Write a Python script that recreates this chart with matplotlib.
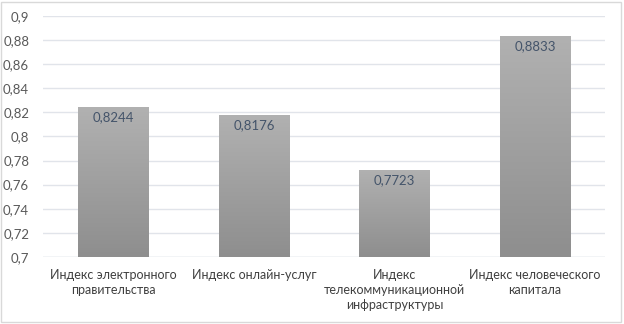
import matplotlib
matplotlib.use("Agg")
import matplotlib.pyplot as plt
import numpy as np

plt.rcParams['font.family'] = ['Lato', 'DejaVu Sans']

# data
categories = ["Индекс электронного\nправительства",
              "Индекс онлайн-услуг",
              "Индекс\nтелекоммуникационной\nинфраструктуры",
              "Индекс человеческого\nкапитала"]
values = [0.8244, 0.8176, 0.7723, 0.8833]
value_labels = ["0,8244", "0,8176", "0,7723", "0,8833"]
yticks = [0.7, 0.72, 0.74, 0.76, 0.78, 0.8, 0.82, 0.84, 0.86, 0.88, 0.9]
ytick_labels = ["0,7", "0,72", "0,74", "0,76", "0,78", "0,8", "0,82", "0,84", "0,86", "0,88", "0,9"]

fig = plt.figure(figsize=(6.24, 3.24), dpi=100)
ax = fig.add_axes([0.069, 0.207, 0.901, 0.744])

x = np.arange(len(categories))
bars = ax.bar(x, values, width=0.5, bottom=0, color='#a6a6a6', zorder=2)

# vertical gradient fill, lighter on top
grad = np.linspace(0, 1, 256).reshape(-1, 1)
cmap = matplotlib.colors.LinearSegmentedColormap.from_list('g', ['#8e8e8e', '#b1b1b1'])
for b in bars:
    x0, w, h = b.get_x(), b.get_width(), b.get_height()
    im = ax.imshow(grad, extent=[x0, x0 + w, 0.7, h], origin='lower', aspect='auto',
                   cmap=cmap, zorder=3)
    im.set_clip_path(b)

for xi, v, lab in zip(x, values, value_labels):
    ax.text(xi, v - 0.0085, lab, ha='center', va='center', fontsize=9.5,
            color='#44546a', zorder=4)

ax.set_xlim(-0.5, len(categories) - 0.5)
ax.set_ylim(0.7, 0.9)
ax.set_yticks(yticks)
ax.set_yticklabels(ytick_labels, fontsize=9.5, color='#595959')
ax.set_xticks(x)
ax.set_xticklabels(categories, fontsize=9, color='#404040', linespacing=1.3)
ax.tick_params(axis='x', length=0, pad=9)
ax.tick_params(axis='y', length=0, pad=10)
ax.yaxis.grid(True, color='#e1e4ea', linewidth=1, zorder=0)
for s in ax.spines.values():
    s.set_visible(False)
ax.axhline(0.7, color='#d9dce2', linewidth=1, zorder=1)

# outer chart border
fig.patches.append(plt.Rectangle((0.002, 0.005), 0.993, 0.99, transform=fig.transFigure,
                                 fill=False, edgecolor='#d9d9d9', linewidth=1))

fig.savefig('out.png', dpi=100)
